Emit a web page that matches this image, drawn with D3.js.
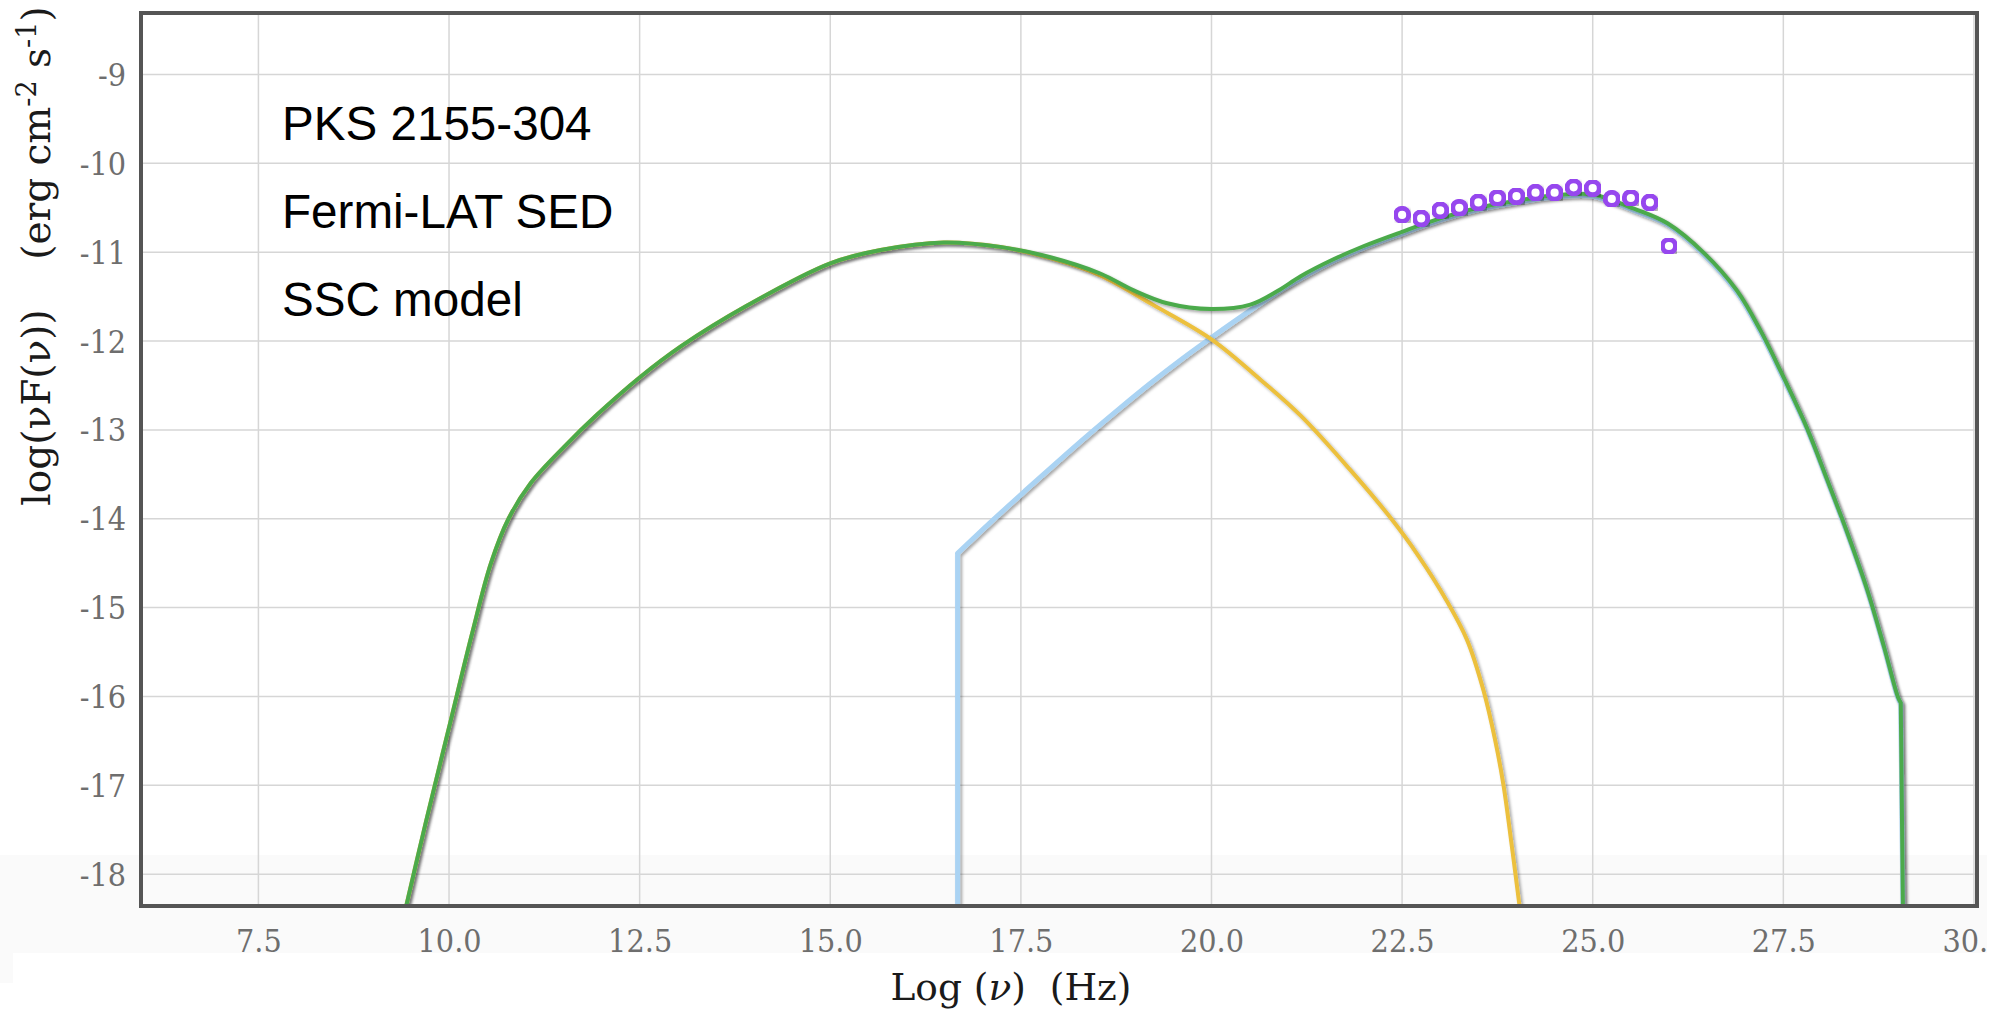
<!DOCTYPE html>
<html>
<head>
<meta charset="utf-8">
<script src="https://cdn.jsdelivr.net/npm/d3@7"></script>
<style>
  html, body { margin: 0; padding: 0; background: #fff; }
  svg { display: block; }
</style>
</head>
<body>
<div id="chart"></div>
<script>
// ---- Data ----
const xTicks = [7.5, 10.0, 12.5, 15.0, 17.5, 20.0, 22.5, 25.0, 27.5, 30.0];
const yTicks = [-9, -10, -11, -12, -13, -14, -15, -16, -17, -18];
const annotations = ["PKS 2155-304", "Fermi-LAT SED", "SSC model"];

// Synchrotron component (yellow)
const syncX = [9.40, 9.70, 10.00, 10.30, 10.55, 10.78, 11.07, 11.51, 11.94, 12.50, 13.04, 13.91, 15.00, 15.66, 16.49, 17.23, 17.90, 18.54, 19.23, 20.00, 20.65, 21.17, 21.82, 22.33, 22.70, 23.09, 23.35, 23.57, 23.72, 23.83, 23.94, 24.03, 24.06];
const syncY = [-18.50, -17.40, -16.35, -15.30, -14.50, -14.00, -13.60, -13.19, -12.83, -12.41, -12.06, -11.60, -11.125, -10.975, -10.89, -10.94, -11.07, -11.26, -11.59, -11.98, -12.44, -12.84, -13.45, -13.97, -14.40, -14.93, -15.36, -15.94, -16.49, -17.00, -17.69, -18.29, -18.50];

// Inverse Compton component (light blue)
const icX = [16.67, 16.67, 17.14, 17.55, 18.00, 18.40, 18.80, 19.20, 19.60, 20.00, 20.50, 21.00, 21.50, 22.00, 22.50, 23.00, 23.50, 24.00, 24.50, 25.00, 25.54, 25.98, 26.46, 26.89, 27.20, 27.46, 27.81, 28.07, 28.34, 28.60, 28.82, 29.00, 29.04, 29.07];
const icY = [-18.50, -14.39, -14.01, -13.69, -13.345, -13.045, -12.755, -12.475, -12.21, -11.96, -11.66, -11.38, -11.14, -10.95, -10.79, -10.64, -10.52, -10.44, -10.38, -10.37, -10.53, -10.69, -11.03, -11.45, -11.90, -12.35, -12.99, -13.56, -14.17, -14.81, -15.45, -16.01, -16.08, -18.50];

// Total SSC model (green)
const totX = [9.40, 9.70, 10.00, 10.30, 10.55, 10.78, 11.07, 11.51, 11.94, 12.50, 13.04, 13.91, 15.00, 15.66, 16.49, 17.23, 17.90, 18.54, 18.98, 19.42, 20.00, 20.51, 20.86, 21.17, 21.60, 22.00, 22.50, 23.00, 23.50, 24.00, 24.50, 25.00, 25.54, 25.98, 26.46, 26.89, 27.20, 27.46, 27.81, 28.07, 28.34, 28.60, 28.82, 29.00, 29.04, 29.07];
const totY = [-18.50, -17.40, -16.35, -15.30, -14.50, -14.00, -13.60, -13.19, -12.83, -12.41, -12.06, -11.60, -11.125, -10.975, -10.89, -10.94, -11.06, -11.24, -11.43, -11.575, -11.64, -11.59, -11.44, -11.27, -11.08, -10.93, -10.77, -10.62, -10.50, -10.42, -10.36, -10.35, -10.51, -10.675, -11.01, -11.43, -11.88, -12.33, -12.98, -13.55, -14.16, -14.80, -15.44, -16.00, -16.07, -18.50];

// Fermi-LAT data points (purple)
const lat = [22.50, 22.75, 23.00, 23.25, 23.50, 23.75, 24.00, 24.25, 24.50, 24.75, 25.00, 25.25, 25.50, 25.75, 26.00];
const latFlux = [-10.58, -10.62, -10.53, -10.50, -10.44, -10.39, -10.37, -10.33, -10.33, -10.27, -10.28, -10.40, -10.39, -10.44, -10.93];

// ---- Layout ----
const W = 2008, H = 1009;
const L = 141, R = 1977, T = 13, B = 906;

const svg = d3.select("#chart").append("svg")
  .attr("width", W).attr("height", H);

const defs = svg.append("defs");
const f = defs.append("filter").attr("id", "shadow")
  .attr("x", "-10%").attr("y", "-10%").attr("width", "120%").attr("height", "120%");
f.append("feDropShadow").attr("dx", 2).attr("dy", 2).attr("stdDeviation", 1.6)
  .attr("flood-color", "#000").attr("flood-opacity", 0.35);
defs.append("clipPath").attr("id", "plotclip").append("rect")
  .attr("x", L).attr("y", T).attr("width", R - L).attr("height", B - T);
defs.append("clipPath").attr("id", "pageclip").append("rect")
  .attr("x", 0).attr("y", 0).attr("width", 1987).attr("height", H);

// faint grey band at the bottom of the picture
svg.append("rect").attr("x", 0).attr("y", 855).attr("width", 1987).attr("height", 98).attr("fill", "#fafafa");
svg.append("rect").attr("x", 0).attr("y", 953).attr("width", 13).attr("height", 30).attr("fill", "#fafafa");

const x = d3.scaleLinear().domain([5.96, 30.04]).range([L, R]);
const y = d3.scaleLinear().domain([-18.358, -8.308]).range([B, T]);

// grid
const grid = svg.append("g");
grid.selectAll("line.v").data(xTicks).join("line")
  .attr("x1", d => x(d)).attr("x2", d => x(d)).attr("y1", T).attr("y2", B)
  .attr("stroke", "#d6d6d6").attr("stroke-width", 1.5);
grid.selectAll("line.h").data(yTicks).join("line")
  .attr("x1", L).attr("x2", R).attr("y1", d => y(d)).attr("y2", d => y(d))
  .attr("stroke", "#d6d6d6").attr("stroke-width", 1.5);

// axes (labels only, via d3 axes)
const tickFont = "'DejaVu Serif', serif";
const xAxis = d3.axisBottom(x).tickValues(xTicks).tickFormat(d => d.toFixed(1)).tickSize(0).tickPadding(0);
const gx = svg.append("g").attr("clip-path", "url(#pageclip)").append("g")
  .attr("transform", `translate(0,${B})`).call(xAxis);
gx.select(".domain").remove();
gx.selectAll("text").attr("dy", null).attr("y", 46)
  .attr("font-family", tickFont).attr("font-size", 32).attr("fill", "#6e6e6e")
  .style("font-stretch", "condensed");

const yAxis = d3.axisLeft(y).tickValues(yTicks).tickFormat(d => String(d)).tickSize(0).tickPadding(0);
const gy = svg.append("g").attr("transform", `translate(126,0)`).call(yAxis);
gy.select(".domain").remove();
gy.selectAll("text").attr("dy", null).attr("x", 0).attr("y", 11)
  .attr("font-family", tickFont).attr("font-size", 32).attr("fill", "#6e6e6e")
  .style("font-stretch", "condensed");

// curves
const plot = svg.append("g").attr("clip-path", "url(#plotclip)");
const smooth = d3.line().x(d => x(d[0])).y(d => y(d[1])).curve(d3.curveCatmullRom.alpha(0.5));
const straight = d3.line().x(d => x(d[0])).y(d => y(d[1]));
const zip = (a, b) => a.map((v, i) => [v, b[i]]);
// vertical start/end drops drawn straight, the rest smooth
function curvePath(pts, straightStart, straightEnd) {
  const s = straightStart ? 1 : 0;
  const e = straightEnd ? pts.length - 1 : pts.length;
  let d = "";
  if (straightStart) d += straight(pts.slice(0, 2));
  d += smooth(pts.slice(s, e));
  if (straightEnd) d += straight(pts.slice(pts.length - 2));
  return d;
}

function drawCurve(xs, ys, color, width, ss, se) {
  plot.append("path").attr("d", curvePath(zip(xs, ys), ss, se))
    .attr("fill", "none").attr("stroke", color).attr("stroke-width", width)
    .attr("stroke-linejoin", "round").attr("stroke-linecap", "round")
    .attr("filter", "url(#shadow)");
}
drawCurve(icX, icY, "#aad3f3", 5, true, true);
drawCurve(syncX, syncY, "#ecc03e", 4, false, false);
drawCurve(totX, totY, "#4caa4c", 4, false, true);

// data points
plot.selectAll("circle").data(zip(lat, latFlux)).join("circle")
  .attr("cx", d => x(d[0])).attr("cy", d => y(d[1])).attr("r", 6.6)
  .attr("fill", "#fff").attr("stroke", "#9646ee").attr("stroke-width", 5)
  .attr("filter", "url(#shadow)");

// frame
svg.append("rect").attr("x", L).attr("y", T).attr("width", R - L).attr("height", B - T)
  .attr("fill", "none").attr("stroke", "#555").attr("stroke-width", 4);

// annotations
svg.append("g").selectAll("text").data(annotations).join("text")
  .attr("x", 282).attr("y", (d, i) => 140 + i * 88)
  .attr("font-family", "'Liberation Sans', Arial, sans-serif").attr("font-size", 47.6)
  .attr("fill", "#000").text(d => d);

// axis titles
const xt = svg.append("text").attr("x", 1011).attr("y", 1000).attr("text-anchor", "middle")
  .attr("font-family", "'DejaVu Serif', serif").attr("font-size", 37.5).attr("fill", "#1a1a1a")
  .style("white-space", "pre");
xt.append("tspan").text("Log (");
xt.append("tspan").attr("font-style", "italic").text("ν");
xt.append("tspan").text(")  (Hz)");

const yt = svg.append("text").attr("transform", "translate(50,256) rotate(-90)")
  .attr("text-anchor", "middle")
  .attr("font-family", "'DejaVu Serif', serif").attr("font-size", 39).attr("fill", "#1a1a1a")
  .style("white-space", "pre");
yt.append("tspan").text("log(νF(ν))    (erg cm");
yt.append("tspan").attr("font-size", 27).attr("dy", -14).text("-2");
yt.append("tspan").attr("dy", 14).text(" s");
yt.append("tspan").attr("font-size", 27).attr("dy", -14).text("-1");
yt.append("tspan").attr("dy", 14).text(")");
</script>
</body>
</html>
